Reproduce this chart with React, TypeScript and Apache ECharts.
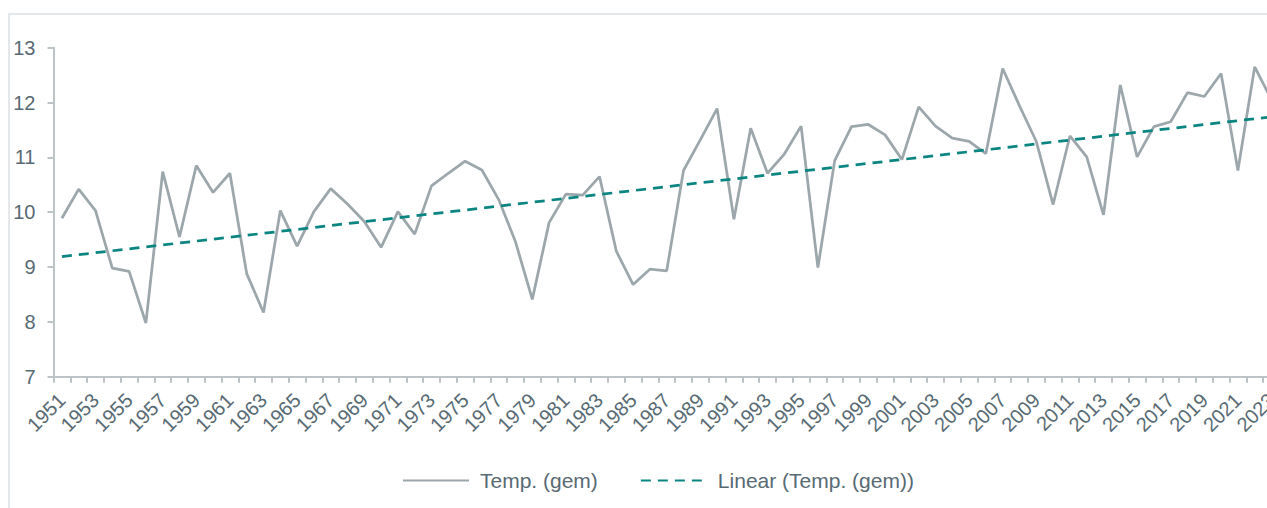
import React, { useEffect, useRef } from "react";
import * as echarts from "echarts";

const years: string[] = Array.from({ length: 73 }, (_, i) => String(1951 + i));

const tempValues: number[] = [
  9.89, 10.42, 10.03, 8.98, 8.92, 7.98, 10.74, 9.55, 10.85, 10.36,
  10.71, 8.88, 8.17, 10.03, 9.38, 10.01, 10.43, 10.15, 9.83, 9.36,
  10.01, 9.6, 10.48, 10.71, 10.93, 10.77, 10.23, 9.46, 8.41, 9.81,
  10.33, 10.31, 10.65, 9.29, 8.68, 8.96, 8.93, 10.76, 11.32, 11.89,
  9.87, 11.53, 10.71, 11.06, 11.57, 8.99, 10.94, 11.56, 11.6, 11.41,
  10.96, 11.92, 11.57, 11.35, 11.29, 11.07, 12.62, 11.94, 11.29, 10.14,
  11.39, 11.01, 9.95, 12.32, 11.01, 11.56, 11.65, 12.18, 12.11, 12.53,
  10.76, 12.65, 12.05,
];

// Trend line endpoints (first and last year)
const trendStart = 9.19;
const trendEnd = 11.74;

const yTicks = { min: 7, max: 13, interval: 1 };

const seriesNames = ["Temp. (gem)", "Linear (Temp. (gem))"];

export default function App() {
  const ref = useRef<HTMLDivElement>(null);

  useEffect(() => {
    if (!ref.current) return;
    const chart = echarts.init(ref.current, undefined, { renderer: "svg" });
    const trendData: (number | null)[] = years.map((_, i) =>
      i === 0 ? trendStart : i === years.length - 1 ? trendEnd : null
    );
    const textColor = "#586a74";
    const axisColor = "#bcc4c8";
    chart.setOption({
      animation: false,
      textStyle: { fontFamily: "Liberation Sans, Arial, sans-serif" },
      grid: { left: 43.5, top: 32.7, width: 73 * 16.8, height: 329 },
      legend: {
        left: 392,
        top: 455,
        padding: 0,
        itemWidth: 66,
        itemHeight: 14,
        itemGap: 42,
        itemStyle: { opacity: 0 },
        textStyle: { fontSize: 21, color: textColor, padding: [0, 0, 0, 6] },
        data: seriesNames,
      },
      xAxis: {
        type: "category",
        data: years,
        boundaryGap: true,
        axisLine: { lineStyle: { color: axisColor, width: 2 } },
        axisTick: { show: true, interval: 0, length: 6, lineStyle: { color: axisColor, width: 2 } },
        axisLabel: { interval: 1, rotate: 45, fontSize: 20, color: textColor, margin: 20 },
        splitLine: { show: false },
      },
      yAxis: {
        type: "value",
        min: yTicks.min,
        max: yTicks.max,
        interval: yTicks.interval,
        axisLine: { show: true, lineStyle: { color: axisColor, width: 2 } },
        axisTick: { show: true, length: 6, lineStyle: { color: axisColor, width: 2 } },
        axisLabel: { fontSize: 20, color: textColor, margin: 18 },
        splitLine: { show: false },
      },
      series: [
        {
          name: seriesNames[0],
          type: "line",
          data: tempValues,
          symbol: "none",
          lineStyle: { color: "#9ca7ac", width: 2.75 },
          itemStyle: { color: "#9ca7ac" },
        },
        {
          name: seriesNames[1],
          type: "line",
          data: trendData,
          connectNulls: true,
          symbol: "none",
          lineStyle: { color: "#0b8581", width: 2.75, type: [10, 7] },
          itemStyle: { color: "#0b8581" },
        },
      ],
    });
    return () => chart.dispose();
  }, []);

  return (
    <div
      style={{
        position: "fixed",
        left: 8,
        top: 13,
        width: 1259,
        height: 495,
        overflow: "hidden",
        borderLeft: "2px solid #e4e8eb",
        borderTop: "2px solid #e4e8eb",
        boxSizing: "border-box",
        background: "#fff",
      }}
    >
      <div ref={ref} style={{ position: "absolute", left: 0, top: 0, width: 1300, height: 493 }} />
    </div>
  );
}
